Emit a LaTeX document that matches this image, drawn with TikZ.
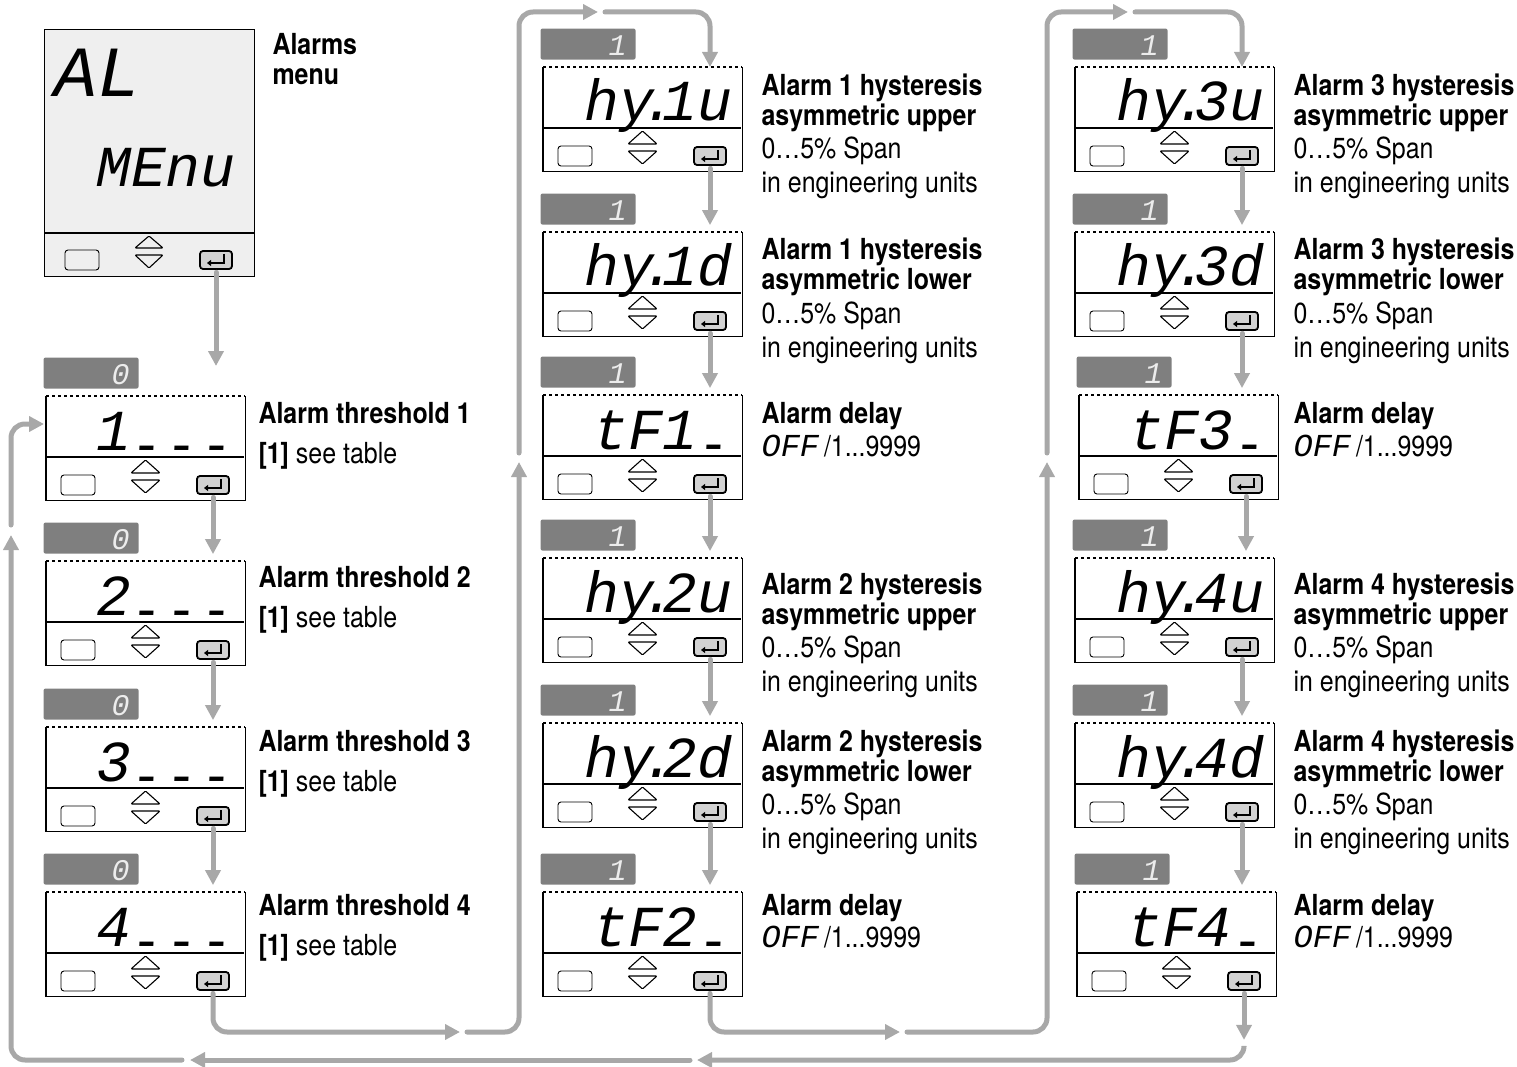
\documentclass[tikz,border=0pt]{standalone}
\usepackage{fontspec}
\usepackage{graphicx}
\setmainfont{TeX Gyre Heros}[FakeStretch=0.86]
\newfontfamily\lcdfont{Liberation Mono}
\usetikzlibrary{positioning,calc,arrows.meta}

\definecolor{flowgray}{HTML}{A8A8A8}
\definecolor{hdrgray}{HTML}{7F7F7F}
\definecolor{keygray}{HTML}{D2D2D2}
\definecolor{lcdgray}{HTML}{EFEFEF}

\newcommand\lcdbar{\makebox[0.6em][c]{\raisebox{0.17em}{\scalebox{0.4}[1.6]{\_}}}}
\newcommand\lcddot{\makebox[0.15em][c]{.}}

\tikzset{
  lcdbox/.style={minimum width=198pt,minimum height=103pt,inner sep=0,anchor=north west},
  hdrbar/.style={fill=hdrgray,rounded corners=2pt,minimum width=95pt,minimum height=31pt,inner sep=0,anchor=north west},
  hdrdigit/.style={inner sep=0,anchor=base east,text=white!85!hdrgray,font=\lcdfont\itshape\fontsize{30}{30}\selectfont},
  lcdtext/.style={inner sep=0,anchor=base east,font=\lcdfont\itshape\fontsize{58}{58}\selectfont},
  esckey/.style={draw,line width=0.9pt,rounded corners=3pt,minimum width=34pt,minimum height=20pt,inner sep=0},
  okkey/.style={draw,line width=1.8pt,fill=keygray,rounded corners=3pt,minimum width=32pt,minimum height=18pt,inner sep=0},
  flow/.style={draw=flowgray,line width=5pt,line cap=round,rounded corners=14pt,-{Triangle[length=15pt,width=15pt]}},
  fromkey/.style={shorten <=2.5pt},
  head/.style={inner sep=0,anchor=base west,font=\fontsize{29}{30}\selectfont\bfseries},
  body/.style={inner sep=0,anchor=base west,font=\fontsize{29}{30}\selectfont},
}

% one unit of the keypad display: header, lcd, keys
\newcommand\panel[5]{%
  \node[hdrbar] (#1-hd) at (#2-3,#3-39) {};
  \node[hdrdigit] (#1-hdd) at ($(#1-hd.east)+(-9,11)$) {#4};
  \node[lcdbox] (#1) at (#2,#3) {};
  \draw[dashed] (#1.north west) -- (#1.north east);
  \draw (#1.north east) -- (#1.south east) -- (#1.south west) -- (#1.north west);
  \draw (#2,#3+61) -- (#2+198,#3+61);
  \node[lcdtext] (#1-lcd) at (#2+190,#3+54) {#5};
  \node[esckey] (#1-esc) at (#2+32,#3+89) {};
  \node[okkey] (#1-ok) at (#2+167,#3+89) {};
  \draw[rounded corners=1pt] (#2+85,#3+77) -- (#2+99.5,#3+64) -- (#2+114,#3+77) -- cycle;
  \draw[rounded corners=1pt] (#2+85,#3+84) -- (#2+114,#3+84) -- (#2+99.5,#3+97) -- cycle;
  \draw[line width=1.6pt,-{Triangle[length=4pt,width=6pt]}] ($(#1-ok.center)+(8,-6)$) |- ($(#1-ok.center)+(-9,3)$);
}

\newcommand\hyslabel[5]{%
  \node[head] (#1-t1) at (#2,#3) {Alarm #4 hysteresis};
  \node[head] (#1-t2) at (#2,#3+30) {asymmetric #5};
  \node[body] (#1-t3) at (#2,#3+63) {0…5\% Span};
  \node[body] (#1-t4) at (#2,#3+97) {in engineering units};
}

\begin{document}
\begin{tikzpicture}[x=1pt,y=-1pt,line width=1.1pt]
\useasboundingbox (0,0) rectangle (1517,1067);

% menu display
\node[lcdbox,minimum width=210pt,minimum height=247pt,draw,fill=lcdgray] (menu) at (44,29) {};
\draw (44,233) -- (254,233);
\node[lcdtext,anchor=base west,font=\lcdfont\itshape\fontsize{72}{72}\selectfont] (menu-al) at (54,97) {AL};
\node[lcdtext] (menu-lcd) at (236,187) {MEnu};
\node[esckey] (menu-esc) at (82,260) {};
\node[okkey] (menu-ok) at (216,260) {};
\draw[rounded corners=1pt] (135,248) -- (149,236) -- (163,248) -- cycle;
\draw[rounded corners=1pt] (135,255) -- (163,255) -- (149,268) -- cycle;
\draw[line width=1.6pt,-{Triangle[length=4pt,width=6pt]}] ($(menu-ok.center)+(8,-6)$) |- ($(menu-ok.center)+(-9,3)$);
\node[head] (menu-t1) at (272,55) {Alarms};
\node[head] (menu-t2) at (272,85) {menu};

% thresholds
\panel{thr1}{46}{396}{0}{1\lcdbar\lcdbar\lcdbar}
\panel{thr2}{46}{561}{0}{2\lcdbar\lcdbar\lcdbar}
\panel{thr3}{46}{727}{0}{3\lcdbar\lcdbar\lcdbar}
\panel{thr4}{46}{892}{0}{4\lcdbar\lcdbar\lcdbar}
\node[head] (thr1-t) at (258,423) {Alarm threshold 1};
\node[body] (thr1-n) at (258,463) {\textbf{[1]} see table};
\node[head] (thr2-t) at (258,587) {Alarm threshold 2};
\node[body] (thr2-n) at (258,627) {\textbf{[1]} see table};
\node[head] (thr3-t) at (258,751) {Alarm threshold 3};
\node[body] (thr3-n) at (258,791) {\textbf{[1]} see table};
\node[head] (thr4-t) at (258,915) {Alarm threshold 4};
\node[body] (thr4-n) at (258,955) {\textbf{[1]} see table};

% alarm 1 and 2
\panel{hyu1}{543}{67}{1}{hy\lcddot1u}
\panel{hyd1}{543}{232}{1}{hy\lcddot1d}
\panel{del1}{543}{395}{1}{tF1\lcdbar}
\panel{hyu2}{543}{558}{1}{hy\lcddot2u}
\panel{hyd2}{543}{723}{1}{hy\lcddot2d}
\panel{del2}{543}{892}{1}{tF2\lcdbar}
\hyslabel{hyu1}{761}{96}{1}{upper}
\hyslabel{hyd1}{761}{260}{1}{lower}
\node[head] (del1-t) at (761,423) {Alarm delay};
\node[body] (del1-n) at (761,456) {{\lcdfont\itshape\fontsize{32}{32}\selectfont OFF}\,/1...9999};
\hyslabel{hyu2}{761}{594}{2}{upper}
\hyslabel{hyd2}{761}{751}{2}{lower}
\node[head] (del2-t) at (761,915) {Alarm delay};
\node[body] (del2-n) at (761,947) {{\lcdfont\itshape\fontsize{32}{32}\selectfont OFF}\,/1...9999};

% alarm 3 and 4
\panel{hyu3}{1075}{67}{1}{hy\lcddot3u}
\panel{hyd3}{1075}{232}{1}{hy\lcddot3d}
\panel{del3}{1079}{395}{1}{tF3\lcdbar}
\panel{hyu4}{1075}{558}{1}{hy\lcddot4u}
\panel{hyd4}{1075}{723}{1}{hy\lcddot4d}
\panel{del4}{1077}{892}{1}{tF4\lcdbar}
\hyslabel{hyu3}{1293}{96}{3}{upper}
\hyslabel{hyd3}{1293}{260}{3}{lower}
\node[head] (del3-t) at (1293,423) {Alarm delay};
\node[body] (del3-n) at (1293,456) {{\lcdfont\itshape\fontsize{32}{32}\selectfont OFF}\,/1...9999};
\hyslabel{hyu4}{1293}{594}{4}{upper}
\hyslabel{hyd4}{1293}{751}{4}{lower}
\node[head] (del4-t) at (1293,915) {Alarm delay};
\node[body] (del4-n) at (1293,947) {{\lcdfont\itshape\fontsize{32}{32}\selectfont OFF}\,/1...9999};

% steps down each column
\draw[flow,fromkey] (menu-ok.south) -- ($(menu-ok.south |- thr1-hd.north)+(0,9)$);
\draw[flow,fromkey] (thr1-ok.south) -- (thr1-ok.south |- thr2-hd.south);
\draw[flow,fromkey] (thr2-ok.south) -- (thr2-ok.south |- thr3-hd.south);
\draw[flow,fromkey] (thr3-ok.south) -- (thr3-ok.south |- thr4-hd.south);
\draw[flow,fromkey] (hyu1-ok.south) -- (hyu1-ok.south |- hyd1-hd.south);
\draw[flow,fromkey] (hyd1-ok.south) -- (hyd1-ok.south |- del1-hd.south);
\draw[flow,fromkey] (del1-ok.south) -- (del1-ok.south |- hyu2-hd.south);
\draw[flow,fromkey] (hyu2-ok.south) -- (hyu2-ok.south |- hyd2-hd.south);
\draw[flow,fromkey] (hyd2-ok.south) -- (hyd2-ok.south |- del2-hd.south);
\draw[flow,fromkey] (hyu3-ok.south) -- (hyu3-ok.south |- hyd3-hd.south);
\draw[flow,fromkey] (hyd3-ok.south) -- (hyd3-ok.south |- del3-hd.south);
\draw[flow,fromkey] (del3-ok.south) -- (del3-ok.south |- hyu4-hd.south);
\draw[flow,fromkey] (hyu4-ok.south) -- (hyu4-ok.south |- hyd4-hd.south);
\draw[flow,fromkey] (hyd4-ok.south) -- (hyd4-ok.south |- del4-hd.south);

% threshold 4 -> alarm 1
\coordinate (a1) at (460,1032);
\coordinate (a2) at (467,1032);
\coordinate (a3) at (519,462);
\coordinate (a4) at (519,453);
\coordinate (a5) at (598,12);
\coordinate (a6) at (605,12);
\draw[flow,fromkey] (thr4-ok.south) |- (a1);
\draw[flow] (a2) -| (a3);
\draw[flow] (a4) |- (a5);
\draw[flow] (a6) -| (hyu1-ok.center |- hyu1.north);

% delay 2 -> alarm 3
\coordinate (b1) at (900,1032);
\coordinate (b2) at (907,1032);
\coordinate (b3) at (1047,462);
\coordinate (b4) at (1047,453);
\coordinate (b5) at (1128,12);
\coordinate (b6) at (1135,12);
\draw[flow,fromkey] (del2-ok.south) |- (b1);
\draw[flow] (b2) -| (b3);
\draw[flow] (b4) |- (b5);
\draw[flow] (b6) -| (hyu3-ok.center |- hyu3.north);

% delay 4 -> back to threshold 1
\coordinate (c0) at ($(del4-ok.south)+(0,49)$);
\coordinate (c1) at ($(del4-ok.south)+(0,56)$);
\coordinate (c2) at (697,1060);
\coordinate (c3) at (690,1060);
\coordinate (c4) at (190,1060);
\coordinate (c5) at (182,1060);
\coordinate (c6) at (11,535);
\coordinate (c7) at (11,525);
\coordinate (c8) at ($(thr1.north west)+(-2,28)$);
\draw[flow,fromkey] (del4-ok.south) -- (c0);
\draw[flow] (c1) |- (c2);
\draw[flow] (c3) -- (c4);
\draw[flow] (c5) -| (c6);
\draw[flow] (c7) |- (c8);
\end{tikzpicture}
\end{document}
